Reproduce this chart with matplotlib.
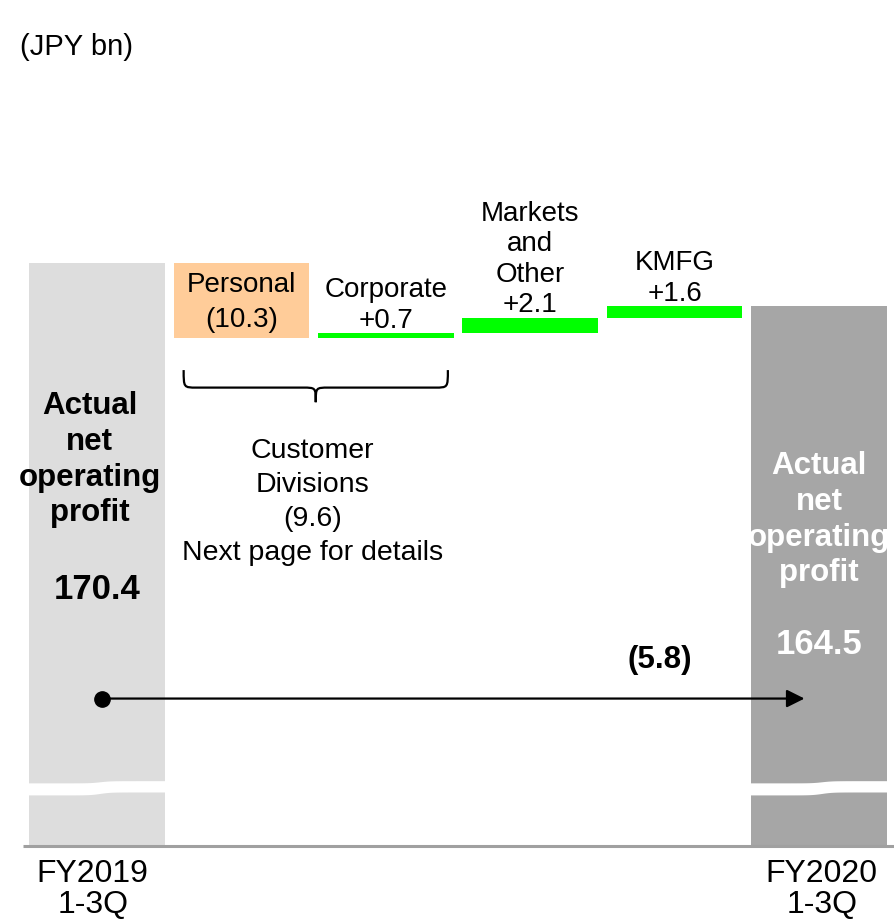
import numpy as np
import matplotlib
matplotlib.use("Agg")
import matplotlib.pyplot as plt
from matplotlib.path import Path
from matplotlib.patches import PathPatch

plt.rcParams['font.family'] = ['Liberation Sans', 'DejaVu Sans']

# Data (JPY bn)
period_labels = ["FY2019\n1-3Q", "FY2020\n1-3Q"]
start_value = 170.4
end_value = 164.5
step_names = ["Personal", "Corporate", "Markets\nand\nOther", "KMFG"]
step_values = [-10.3, 0.7, 2.1, 1.6]
division_total = -9.6
total_change = -5.8


def fmt(v):
    return f"({abs(v):.1f})" if v < 0 else f"+{v:.1f}"


def brace(ax, x0, x1, ytop, ymid, ybot, dx):
    xm = (x0 + x1) / 2
    verts = [(x0, ytop), (x0, ymid), (x0, ymid), (x0 + dx, ymid),
             (xm - dx, ymid),
             (xm, ymid), (xm, ymid), (xm, ybot),
             (xm, ymid), (xm, ymid), (xm + dx, ymid),
             (x1 - dx, ymid),
             (x1, ymid), (x1, ymid), (x1, ytop)]
    codes = [Path.MOVETO, Path.CURVE4, Path.CURVE4, Path.CURVE4,
             Path.LINETO,
             Path.CURVE4, Path.CURVE4, Path.CURVE4,
             Path.CURVE4, Path.CURVE4, Path.CURVE4,
             Path.LINETO,
             Path.CURVE4, Path.CURVE4, Path.CURVE4]
    ax.add_patch(PathPatch(Path(verts, codes), fill=False, lw=1.6, color='black'))


base = 90.7      # axis is cut here
width = 0.94
x = np.arange(len(step_values) + 2)

fig = plt.figure(figsize=(8.94, 9.19), dpi=100)
ax = fig.add_axes([0, 0, 1, 1])
ax.set_xlim(-0.672, 5.52)
ax.set_ylim(80.5, 206.4)
ax.axis('off')

# totals
ax.bar(x[0], start_value - base, bottom=base, width=width, color='#dddddd', zorder=1)
ax.bar(x[-1], end_value - base, bottom=base, width=width, color='#a6a6a6', zorder=1)

# break marks on the total bars
for xc in (x[0], x[-1]):
    xs = np.linspace(xc - width / 2 - 0.01, xc + width / 2 + 0.01, 80)
    s = np.tanh((xs - xc - 0.02) / 0.07)
    ax.fill_between(xs, 97.7 + 0.2 * s, 99.3 + 0.15 * s, color='white', lw=0, zorder=2)

# steps
cum = start_value
for i, (name, v) in enumerate(zip(step_names, step_values)):
    xi = x[i + 1]
    lo = min(cum, cum + v)
    if v < 0:
        ax.bar(xi, -v, bottom=lo, width=width, color='#ffcc99')
        ax.text(xi, lo - v / 2 - 0.3, f"{name}\n{fmt(v)}", ha='center', va='center',
                fontsize=20, linespacing=1.45)
    else:
        ax.bar(xi, v, bottom=lo, width=width, color='#00ff00')
        ax.annotate(f"{name}\n{fmt(v)}", (xi, lo + v), xytext=(0, -0.5),
                    textcoords='offset points', ha='center', va='bottom',
                    fontsize=20, linespacing=1.22)
    cum += v

# axis line
ax.plot([-0.512, 5.52], [base - 0.15, base - 0.15], color='#a0a0a0', lw=2.2,
        solid_capstyle='butt')

# total labels
ax.text(x[0] - 0.05, 143.4, "Actual\nnet\noperating\nprofit", ha='center', va='center',
        fontsize=22.5, fontweight='bold', linespacing=1.25)
ax.text(x[0], 125.6, f"{start_value:.1f}", ha='center', va='center',
        fontsize=25, fontweight='bold')
ax.text(x[-1], 135.2, "Actual\nnet\noperating\nprofit", ha='center', va='center',
        fontsize=22.5, fontweight='bold', linespacing=1.25, color='white')
ax.text(x[-1], 118.1, f"{end_value:.1f}", ha='center', va='center',
        fontsize=25, fontweight='bold', color='white')

# brace under customer divisions
brace(ax, x[1] - 0.4, x[2] + 0.43, 155.7, 153.3, 151.3, 0.09)
ax.text((x[1] + x[2]) / 2 - 0.01, 137.6,
        f"Customer\nDivisions\n{fmt(division_total)}\nNext page for details",
        ha='center', va='center', fontsize=20.5, linespacing=1.4)

# overall change arrow
ax.annotate('', xy=(4.9, 110.7), xytext=(0.035, 110.7),
            arrowprops=dict(arrowstyle='-|>', color='black', lw=1.6,
                            mutation_scale=27, shrinkA=0, shrinkB=0))
ax.plot(0.035, 110.7, 'o', ms=11, color='black')
ax.text(3.9, 116.0, fmt(total_change), ha='center', va='center',
        fontsize=22.5, fontweight='bold')

# period labels
ax.text(x[0] - 0.03, 88.7, period_labels[0], ha='center', va='top',
        fontsize=23, linespacing=1.02)
ax.text(x[-1] + 0.02, 88.7, period_labels[1], ha='center', va='top',
        fontsize=23, linespacing=1.02)

fig.text(0.022, 0.949, "(JPY bn)", ha='left', va='center', fontsize=21)

fig.savefig("out.png", dpi=100)
